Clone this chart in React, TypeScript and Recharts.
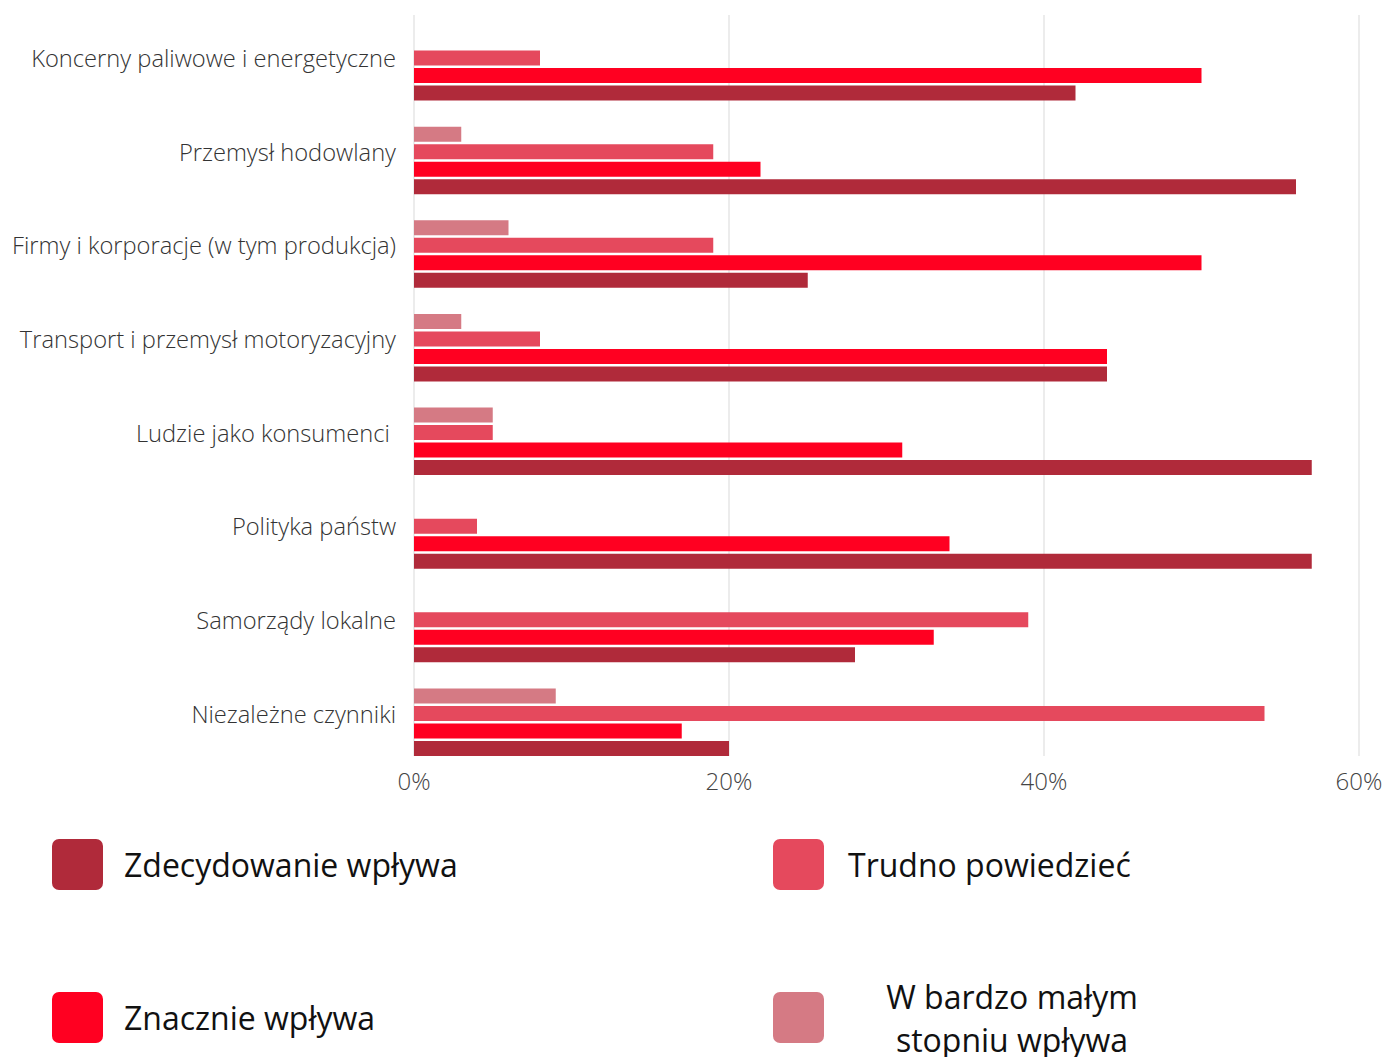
import React from 'react';
import { BarChart, Bar, XAxis, YAxis, CartesianGrid } from 'recharts';

const categories = [
  'Koncerny paliwowe i energetyczne',
  'Przemysł hodowlany',
  'Firmy i korporacje (w tym produkcja)',
  'Transport i przemysł motoryzacyjny',
  'Ludzie jako konsumenci\u00a0',
  'Polityka państw',
  'Samorządy lokalne',
  'Niezależne czynniki',
];

// values in %
const bardzoMalym = [0, 3, 6, 3, 5, 0, 0, 9];
const trudno = [8, 19, 19, 8, 5, 4, 39, 54];
const znacznie = [50, 22, 50, 44, 31, 34, 33, 17];
const zdecydowanie = [42, 56, 25, 44, 57, 57, 28, 20];

const xTicks = [0, 20, 40, 60];

const colors = {
  zdecydowanie: '#b02a3a',
  znacznie: '#ff0021',
  trudno: '#e5495d',
  bardzoMalym: '#d57a84',
};

const chartData = categories.map((name, i) => ({
  name,
  bardzoMalym: bardzoMalym[i],
  trudno: trudno[i],
  znacznie: znacznie[i],
  zdecydowanie: zdecydowanie[i],
}));

const legendItems = [
  { key: 'zdecydowanie', label: 'Zdecydowanie wpływa' },
  { key: 'trudno', label: 'Trudno powiedzieć' },
  { key: 'znacznie', label: 'Znacznie wpływa' },
  { key: 'bardzoMalym', label: ['W bardzo małym', 'stopniu wpływa'] },
];

const CategoryTick = ({ x, y, payload }: any) => (
  <text
    x={x}
    y={y - 8}
    dy="0.355em"
    textAnchor="end"
    fill="#333"
    fontSize={23.7}
    fontWeight={300}
    fontFamily="'Open Sans', sans-serif"
    style={{ whiteSpace: 'pre' }}
  >
    {payload.value}
  </text>
);

export default function App() {
  return (
    <div style={{ position: 'absolute', left: 0, top: 0, width: 1386, height: 1057, background: '#fff', fontFamily: "'Open Sans', sans-serif" }}>
      <BarChart
        width={1386}
        height={800}
        data={chartData}
        layout="vertical"
        margin={{ top: 15, right: 27, left: 0, bottom: 0 }}
        barSize={15}
        barGap={2.5}
      >
        <CartesianGrid horizontal={false} stroke="#d9d9d9" />
        <XAxis
          type="number"
          domain={[0, 60]}
          ticks={xTicks}
          tickFormatter={(v) => `${v}%`}
          axisLine={false}
          tickLine={false}
          tickSize={0}
          tickMargin={17}
          height={44}
          tick={{ fontSize: 24, fill: '#444', fontWeight: 300, fontFamily: "'Open Sans', sans-serif" }}
        />
        <YAxis
          type="category"
          dataKey="name"
          width={414}
          axisLine={false}
          tickLine={false}
          tickSize={0}
          tickMargin={18}
          padding={{ top: 5, bottom: -13 }}
          tick={<CategoryTick />}
          interval={0}
        />
        <Bar dataKey="bardzoMalym" fill={colors.bardzoMalym} isAnimationActive={false} />
        <Bar dataKey="trudno" fill={colors.trudno} isAnimationActive={false} />
        <Bar dataKey="znacznie" fill={colors.znacznie} isAnimationActive={false} />
        <Bar dataKey="zdecydowanie" fill={colors.zdecydowanie} isAnimationActive={false} />
      </BarChart>

      <div
        style={{
          position: 'absolute',
          left: 52,
          top: 839,
          display: 'grid',
          gridTemplateColumns: '721px 600px',
          rowGap: 102,
        }}
      >
        {legendItems.map((item, i) => (
          <div key={item.key} style={{ display: 'flex', alignItems: 'center', height: 51 }}>
            <div
              style={{
                width: 51,
                height: 51,
                borderRadius: 7,
                background: (colors as any)[item.key],
                flexShrink: 0,
              }}
            />
            {Array.isArray(item.label) ? (
              <div style={{ marginLeft: 25, width: 326, textAlign: 'center', fontSize: 32, lineHeight: '43px', color: '#111' }}>
                {item.label[0]}
                <br />
                {item.label[1]}
              </div>
            ) : (
              <div style={{ marginLeft: i % 2 === 0 ? 21 : 24, fontSize: 32, color: '#111', whiteSpace: 'nowrap' }}>{item.label}</div>
            )}
          </div>
        ))}
      </div>
    </div>
  );
}
